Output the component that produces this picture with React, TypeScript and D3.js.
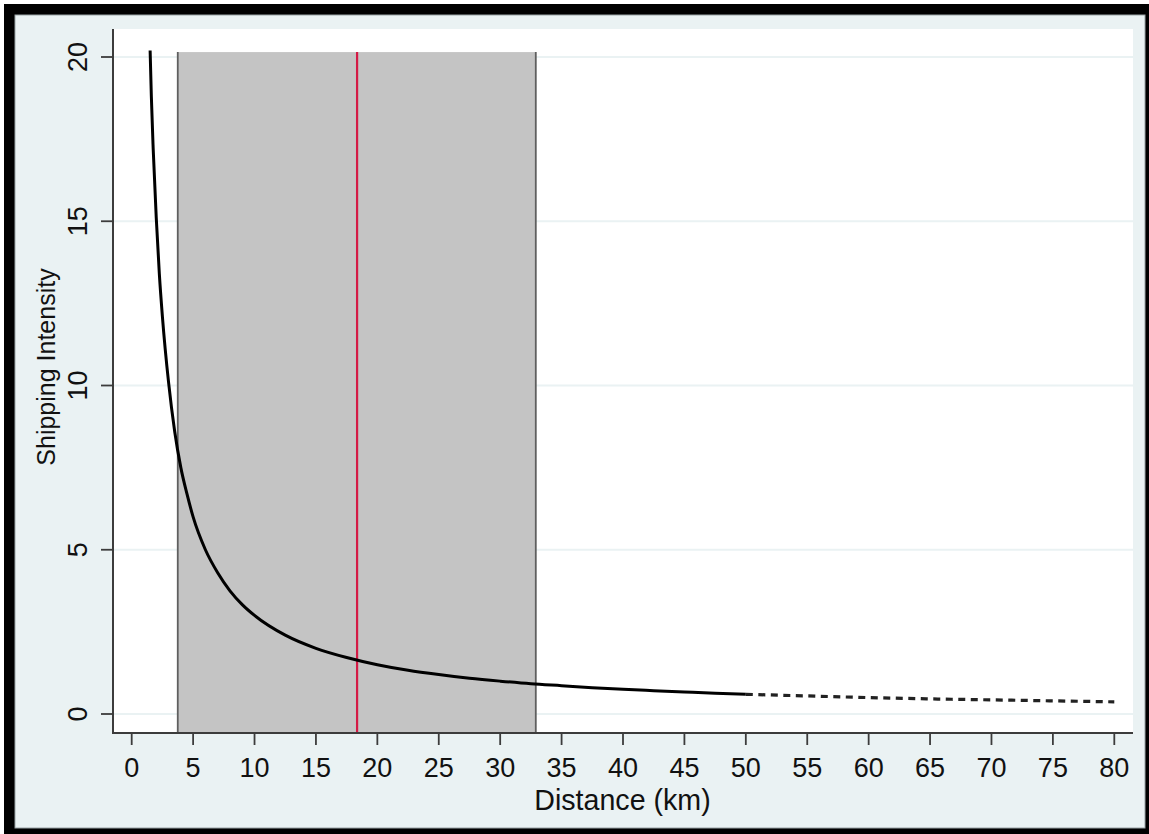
import React from "react";
import * as d3 from "d3";

// Fitted curve (solid part, 1.5–50 km)
const solidX = [1.5, 1.6, 1.75, 2, 2.25, 2.5, 3, 3.5, 4, 4.5, 5, 6, 7, 8, 9, 10, 12.5, 15, 17.5, 20, 22.5, 25, 27.5, 30, 32.5, 35, 37.5, 40, 42.5, 45, 47.5, 50];
const solidY = [20.2, 18.8, 17.2, 15.1, 13.4, 12.1, 10.1, 8.6, 7.5, 6.7, 6.0, 5.0, 4.3, 3.75, 3.33, 3.0, 2.4, 2.0, 1.72, 1.5, 1.33, 1.2, 1.09, 1.0, 0.92, 0.86, 0.8, 0.75, 0.71, 0.67, 0.63, 0.6];
// Extrapolated part (dashed, 50–80 km)
const dashX = [50, 55, 60, 65, 70, 75, 80];
const dashY = [0.6, 0.55, 0.5, 0.46, 0.43, 0.4, 0.37];

// Shaded interval and marker line
const bandLow = 3.75;
const bandHigh = 32.9;
const bandTop = 20.15;
const markerX = 18.35;

const xTicks = [0, 5, 10, 15, 20, 25, 30, 35, 40, 45, 50, 55, 60, 65, 70, 75, 80];
const yTicks = [0, 5, 10, 15, 20];

const xTitle = "Distance (km)";
const yTitle = "Shipping Intensity";

const W = 1149;
const H = 834;
const plot = { left: 113, right: 1133, top: 29, bottom: 733 };
const FONT = "'Liberation Sans', Arial, sans-serif";

export default function App() {
  const x = d3.scaleLinear().domain([0, 80]).range([131.7, 1114.3]);
  const y = d3.scaleLinear().domain([0, 20]).range([714, 57]);

  const line = d3
    .line<[number, number]>()
    .x((d) => x(d[0]))
    .y((d) => y(d[1]))
    .curve(d3.curveMonotoneX);

  const solid = solidX.map((v, i) => [v, solidY[i]] as [number, number]);
  const dashed = dashX.map((v, i) => [v, dashY[i]] as [number, number]);

  const textColor = "#111";
  const axisColor = "#3c3c3c";

  return (
    <svg
      width={W}
      height={H}
      style={{ position: "absolute", left: 0, top: 0, display: "block" }}
    >
      <rect x={0} y={0} width={W} height={H} fill="#ffffff" />
      <rect x={4} y={4} width={W - 4} height={H - 4} fill="#000000" />
      <rect x={15} y={15} width={1130} height={813} fill="#eaf2f3" stroke="#9aa3a5" strokeWidth={1} />
      <rect
        x={plot.left}
        y={plot.top}
        width={plot.right - plot.left}
        height={plot.bottom - plot.top}
        fill="#ffffff"
      />
      {yTicks.map((t) => (
        <line
          key={"g" + t}
          x1={plot.left}
          x2={plot.right}
          y1={y(t)}
          y2={y(t)}
          stroke="#eaf2f3"
          strokeWidth={2}
        />
      ))}
      {/* shaded band */}
      <rect
        x={x(bandLow)}
        y={y(bandTop)}
        width={x(bandHigh) - x(bandLow)}
        height={plot.bottom - y(bandTop)}
        fill="#c4c4c4"
      />
      <line x1={x(bandLow)} x2={x(bandLow)} y1={y(bandTop)} y2={plot.bottom} stroke="#5f5f5f" strokeWidth={1.8} />
      <line x1={x(bandHigh)} x2={x(bandHigh)} y1={y(bandTop)} y2={plot.bottom} stroke="#5f5f5f" strokeWidth={1.8} />
      <line x1={x(markerX)} x2={x(markerX)} y1={y(bandTop)} y2={plot.bottom} stroke="#d41a45" strokeWidth={2.2} />

      <path d={line(solid) || ""} fill="none" stroke="#000" strokeWidth={3} />
      <path d={line(dashed) || ""} fill="none" stroke="#222" strokeWidth={3.2} strokeDasharray="7 5.5" />

      {/* axes */}
      <line x1={plot.left} x2={plot.left} y1={plot.top} y2={plot.bottom + 1} stroke={axisColor} strokeWidth={2} />
      <line x1={plot.left - 1} x2={plot.right} y1={plot.bottom} y2={plot.bottom} stroke={axisColor} strokeWidth={2} />
      {xTicks.map((t) => (
        <g key={"x" + t}>
          <line x1={x(t)} x2={x(t)} y1={plot.bottom} y2={plot.bottom + 12} stroke={axisColor} strokeWidth={1.8} />
          <text
            x={x(t)}
            y={777}
            textAnchor="middle"
            fontFamily={FONT}
            fontSize={27}
            fill={textColor}
          >
            {t}
          </text>
        </g>
      ))}
      {yTicks.map((t) => (
        <g key={"y" + t}>
          <line x1={plot.left - 12} x2={plot.left} y1={y(t)} y2={y(t)} stroke={axisColor} strokeWidth={1.8} />
          <text
            transform={`translate(87,${y(t)}) rotate(-90)`}
            textAnchor="middle"
            fontFamily={FONT}
            fontSize={27}
            fill={textColor}
          >
            {t}
          </text>
        </g>
      ))}
      <text x={622.5} y={809.5} textAnchor="middle" fontFamily={FONT} fontSize={28.6} fill={textColor}>
        {xTitle}
      </text>
      <text
        transform={`translate(54.5,367) rotate(-90)`}
        textAnchor="middle"
        fontFamily={FONT}
        fontSize={25}
        fill={textColor}
      >
        {yTitle}
      </text>
    </svg>
  );
}
